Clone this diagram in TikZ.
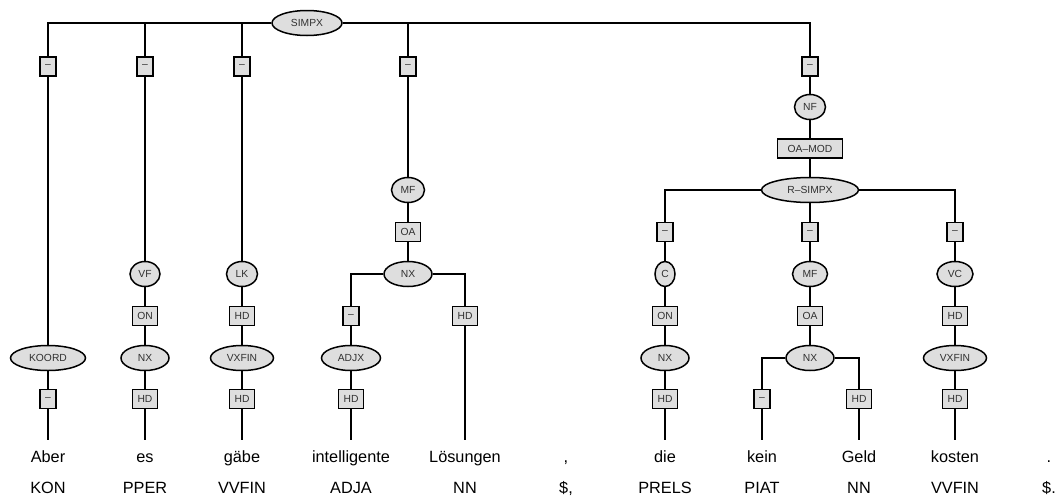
\documentclass[tikz,border=0pt]{standalone}
\usepackage{fontspec}
\setmainfont{Liberation Sans}
\usetikzlibrary{shapes.geometric}
\definecolor{catgray}{HTML}{DEDEDE}
\definecolor{labgray}{HTML}{303030}
\begin{document}
\begin{tikzpicture}[x=1pt,y=-1pt,line width=1.5pt,
  cat/.style={ellipse, draw=black, fill=catgray, inner sep=0pt, minimum height=25pt,
    font=\fontsize{10.3}{12}\selectfont, text=labgray},
  lab/.style={rectangle, draw=black, fill=catgray, inner xsep=5pt, inner ysep=0pt,
    minimum height=19pt, minimum width=15pt, font=\fontsize{10.3}{12}\selectfont, text=labgray},
  word/.style={anchor=base, inner xsep=0pt, inner ysep=9pt, text height=12pt, text depth=4pt,
    font=\fontsize{16.3}{19}\selectfont, text=black},
  tag/.style={anchor=base, inner sep=0pt, font=\fontsize{16.3}{19}\selectfont, text=black}]
\useasboundingbox (0,0) rectangle (1058,498);

% root
\node[cat, minimum width=70pt] (simpx) at (307,23) {SIMPX};
\node[lab] (e1) at (48,66.5) {–};
\node[lab] (e2) at (145,66.5) {–};
\node[lab] (e3) at (242,66.5) {–};
\node[lab] (e4) at (408,66.5) {–};
\node[lab] (e5) at (810,66.5) {–};

% column 1
\node[cat, minimum width=75pt] (koord) at (48,358) {KOORD};
\node[lab] (e1b) at (48,399) {–};

% column 2
\node[cat, minimum width=30pt] (vf) at (145,274) {VF};
\node[lab] (on2) at (145,316) {ON};
\node[cat, minimum width=48pt] (nx2) at (145,358) {NX};
\node[lab] (hd2) at (145,399) {HD};

% column 3
\node[cat, minimum width=31pt] (lk) at (242,274) {LK};
\node[lab] (hd3a) at (242,316) {HD};
\node[cat, minimum width=63pt] (vxfin3) at (242,358) {VXFIN};
\node[lab] (hd3b) at (242,399) {HD};

% column 4
\node[cat, minimum width=33pt] (mf4) at (408,190) {MF};
\node[lab] (oa4) at (408,232) {OA};
\node[cat, minimum width=48pt] (nx4) at (408,274) {NX};
\node[lab] (e4a) at (351,316) {–};
\node[cat, minimum width=59pt] (adjx) at (351,358) {ADJX};
\node[lab] (hd4a) at (351,399) {HD};
\node[lab] (hd4b) at (465,316) {HD};

% column 5
\node[cat, minimum width=31pt] (nf) at (810,107) {NF};
\node[lab, minimum width=65pt] (oamod) at (810,148.5) {OA–MOD};
\node[cat, minimum width=97pt] (rsimpx) at (810,190) {R–SIMPX};
\node[lab] (e5a) at (665,232) {–};
\node[cat, minimum width=20pt] (c5) at (665,274) {C};
\node[lab] (on5) at (665,316) {ON};
\node[cat, minimum width=48pt] (nx5a) at (665,358) {NX};
\node[lab] (hd5a) at (665,399) {HD};
\node[lab] (e5m) at (810,232) {–};
\node[cat, minimum width=35pt] (mf5) at (810,274) {MF};
\node[lab] (oa5) at (810,316) {OA};
\node[cat, minimum width=48pt] (nx5m) at (810,358) {NX};
\node[lab] (e5ma) at (762,399) {–};
\node[lab] (hd5mb) at (859,399) {HD};
\node[lab] (e5b) at (955,232) {–};
\node[cat, minimum width=36pt] (vc) at (955,274) {VC};
\node[lab] (hd5b) at (955,316) {HD};
\node[cat, minimum width=63pt] (vxfin5) at (955,358) {VXFIN};
\node[lab] (hd5c) at (955,399) {HD};

% words
\node[word] (w1) at (48,462) {Aber};
\node[word] (w2) at (145,462) {es};
\node[word] (w3) at (242,462) {gäbe};
\node[word] (w4) at (351,462) {intelligente};
\node[word] (w5) at (465,462) {Lösungen};
\node[word] (w6) at (566,462) {,};
\node[word] (w7) at (665,462) {die};
\node[word] (w8) at (762,462) {kein};
\node[word] (w9) at (859,462) {Geld};
\node[word] (w10) at (955,462) {kosten};
\node[word] (w11) at (1049,462) {.};

% tags
\node[tag] (t1) at (48,493) {KON};
\node[tag] (t2) at (145,493) {PPER};
\node[tag] (t3) at (242,493) {VVFIN};
\node[tag] (t4) at (351,493) {ADJA};
\node[tag] (t5) at (465,493) {NN};
\node[tag] (t6) at (566,493) {\$,};
\node[tag] (t7) at (665,493) {PRELS};
\node[tag] (t8) at (762,493) {PIAT};
\node[tag] (t9) at (859,493) {NN};
\node[tag] (t10) at (955,493) {VVFIN};
\node[tag] (t11) at (1049,493) {\$.};

% connectors
\draw (simpx) -| (e1);
\draw (simpx) -| (e2);
\draw (simpx) -| (e3);
\draw (simpx) -| (e4);
\draw (simpx) -| (e5);

\draw (e1) -- (koord);
\draw (koord) -- (e1b);
\draw (e1b) -- (w1);

\draw (e2) -- (vf);
\draw (vf) -- (on2);
\draw (on2) -- (nx2);
\draw (nx2) -- (hd2);
\draw (hd2) -- (w2);

\draw (e3) -- (lk);
\draw (lk) -- (hd3a);
\draw (hd3a) -- (vxfin3);
\draw (vxfin3) -- (hd3b);
\draw (hd3b) -- (w3);

\draw (e4) -- (mf4);
\draw (mf4) -- (oa4);
\draw (oa4) -- (nx4);
\draw (nx4) -| (e4a);
\draw (nx4) -| (hd4b);
\draw (e4a) -- (adjx);
\draw (adjx) -- (hd4a);
\draw (hd4a) -- (w4);
\draw (hd4b) -- (w5);

\draw (e5) -- (nf);
\draw (nf) -- (oamod);
\draw (oamod) -- (rsimpx);
\draw (rsimpx) -| (e5a);
\draw (rsimpx) -- (e5m);
\draw (rsimpx) -| (e5b);

\draw (e5a) -- (c5);
\draw (c5) -- (on5);
\draw (on5) -- (nx5a);
\draw (nx5a) -- (hd5a);
\draw (hd5a) -- (w7);

\draw (e5m) -- (mf5);
\draw (mf5) -- (oa5);
\draw (oa5) -- (nx5m);
\draw (nx5m) -| (e5ma);
\draw (nx5m) -| (hd5mb);
\draw (e5ma) -- (w8);
\draw (hd5mb) -- (w9);

\draw (e5b) -- (vc);
\draw (vc) -- (hd5b);
\draw (hd5b) -- (vxfin5);
\draw (vxfin5) -- (hd5c);
\draw (hd5c) -- (w10);
\end{tikzpicture}
\end{document}
